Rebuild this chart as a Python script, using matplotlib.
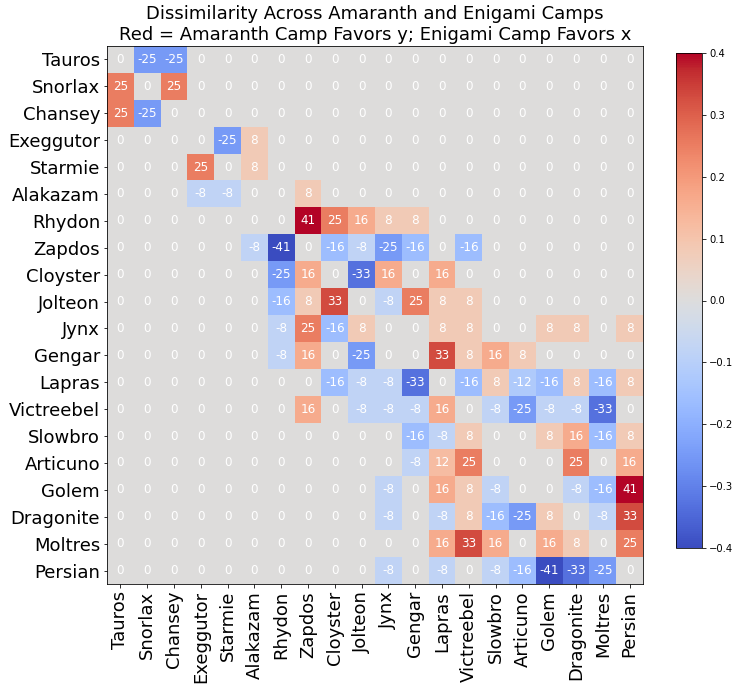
import numpy as np
import matplotlib.pyplot as plt

pokemon = ['Tauros', 'Snorlax', 'Chansey', 'Exeggutor', 'Starmie', 'Alakazam',
           'Rhydon', 'Zapdos', 'Cloyster', 'Jolteon', 'Jynx', 'Gengar', 'Lapras',
           'Victreebel', 'Slowbro', 'Articuno', 'Golem', 'Dragonite', 'Moltres',
           'Persian']

# annotated values (percent), rows = y, cols = x
row_tauros     = [0, -25, -25, 0, 0, 0, 0, 0, 0, 0, 0, 0, 0, 0, 0, 0, 0, 0, 0, 0]
row_snorlax    = [25, 0, 25, 0, 0, 0, 0, 0, 0, 0, 0, 0, 0, 0, 0, 0, 0, 0, 0, 0]
row_chansey    = [25, -25, 0, 0, 0, 0, 0, 0, 0, 0, 0, 0, 0, 0, 0, 0, 0, 0, 0, 0]
row_exeggutor  = [0, 0, 0, 0, -25, 8, 0, 0, 0, 0, 0, 0, 0, 0, 0, 0, 0, 0, 0, 0]
row_starmie    = [0, 0, 0, 25, 0, 8, 0, 0, 0, 0, 0, 0, 0, 0, 0, 0, 0, 0, 0, 0]
row_alakazam   = [0, 0, 0, -8, -8, 0, 0, 8, 0, 0, 0, 0, 0, 0, 0, 0, 0, 0, 0, 0]
row_rhydon     = [0, 0, 0, 0, 0, 0, 0, 41, 25, 16, 8, 8, 0, 0, 0, 0, 0, 0, 0, 0]
row_zapdos     = [0, 0, 0, 0, 0, -8, -41, 0, -16, -8, -25, -16, 0, -16, 0, 0, 0, 0, 0, 0]
row_cloyster   = [0, 0, 0, 0, 0, 0, -25, 16, 0, -33, 16, 0, 16, 0, 0, 0, 0, 0, 0, 0]
row_jolteon    = [0, 0, 0, 0, 0, 0, -16, 8, 33, 0, -8, 25, 8, 8, 0, 0, 0, 0, 0, 0]
row_jynx       = [0, 0, 0, 0, 0, 0, -8, 25, -16, 8, 0, 0, 8, 8, 0, 0, 8, 8, 0, 8]
row_gengar     = [0, 0, 0, 0, 0, 0, -8, 16, 0, -25, 0, 0, 33, 8, 16, 8, 0, 0, 0, 0]
row_lapras     = [0, 0, 0, 0, 0, 0, 0, 0, -16, -8, -8, -33, 0, -16, 8, -12, -16, 8, -16, 8]
row_victreebel = [0, 0, 0, 0, 0, 0, 0, 16, 0, -8, -8, -8, 16, 0, -8, -25, -8, -8, -33, 0]
row_slowbro    = [0, 0, 0, 0, 0, 0, 0, 0, 0, 0, 0, -16, -8, 8, 0, 0, 8, 16, -16, 8]
row_articuno   = [0, 0, 0, 0, 0, 0, 0, 0, 0, 0, 0, -8, 12, 25, 0, 0, 0, 25, 0, 16]
row_golem      = [0, 0, 0, 0, 0, 0, 0, 0, 0, 0, -8, 0, 16, 8, -8, 0, 0, -8, -16, 41]
row_dragonite  = [0, 0, 0, 0, 0, 0, 0, 0, 0, 0, -8, 0, -8, 8, -16, -25, 8, 0, -8, 33]
row_moltres    = [0, 0, 0, 0, 0, 0, 0, 0, 0, 0, 0, 0, 16, 33, 16, 0, 16, 8, 0, 25]
row_persian    = [0, 0, 0, 0, 0, 0, 0, 0, 0, 0, -8, 0, -8, 0, -8, -16, -41, -33, -25, 0]

labels = np.array([row_tauros, row_snorlax, row_chansey, row_exeggutor, row_starmie,
                   row_alakazam, row_rhydon, row_zapdos, row_cloyster, row_jolteon,
                   row_jynx, row_gengar, row_lapras, row_victreebel, row_slowbro,
                   row_articuno, row_golem, row_dragonite, row_moltres, row_persian])
values = labels / 100.0

fig = plt.figure(figsize=(740 / 72, 690 / 72), dpi=72)
ax = fig.add_axes([107 / 740, 106 / 690, 536 / 740, 538 / 690])
im = ax.imshow(values, cmap='coolwarm', vmin=-0.4, vmax=0.4, aspect='auto')

n = len(pokemon)
for i in range(n):
    for j in range(n):
        ax.text(j, i, str(labels[i, j]), ha='center', va='center',
                color='white', fontsize=12)

ax.set_xticks(range(n))
ax.set_yticks(range(n))
ax.set_xticklabels(pokemon, rotation=90, fontsize=18)
ax.set_yticklabels(pokemon, fontsize=18)
ax.set_title('Dissimilarity Across Amaranth and Enigami Camps\n'
             'Red = Amaranth Camp Favors y; Enigami Camp Favors x', fontsize=18)

cax = fig.add_axes([676 / 740, 142 / 690, 26 / 740, 495 / 690])
cb = fig.colorbar(im, cax=cax)
cb.set_ticks([-0.4, -0.3, -0.2, -0.1, 0.0, 0.1, 0.2, 0.3, 0.4])

fig.savefig('out.png', dpi=72)
